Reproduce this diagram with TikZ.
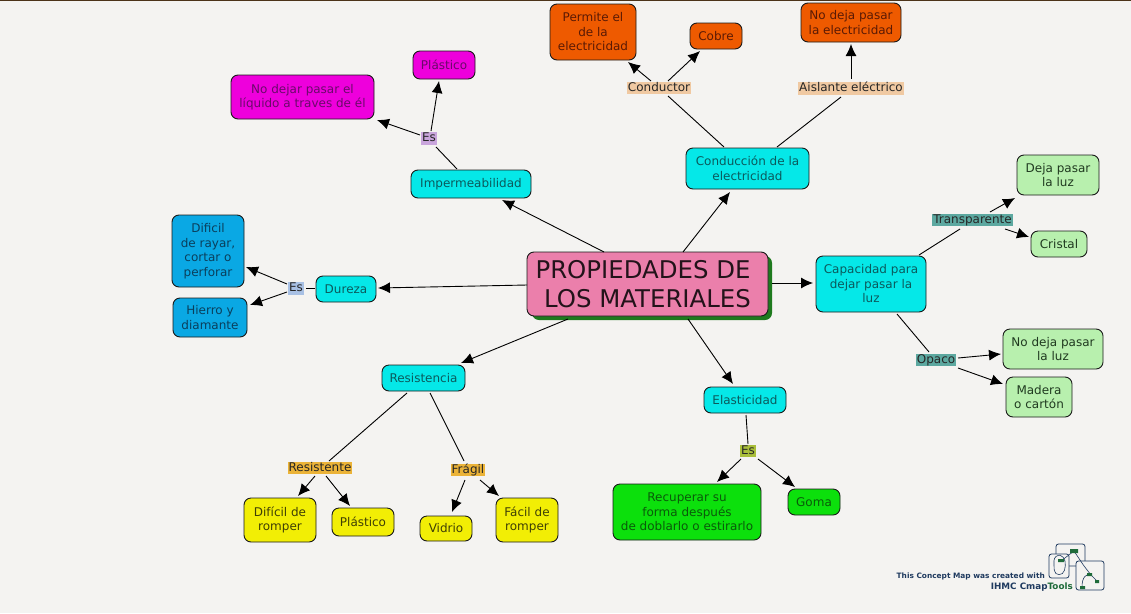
\documentclass[tikz,border=0pt]{standalone}
\usepackage{fontspec}
\setmainfont{DejaVu Sans}
\usetikzlibrary{arrows.meta}
\definecolor{paper}{HTML}{F4F3F1}
\definecolor{rootpink}{HTML}{EB7FAB}\definecolor{shadowgreen}{HTML}{1E7A1E}
\definecolor{aquafill}{HTML}{05E8E8}\definecolor{aquatext}{HTML}{0B5A5C}
\definecolor{magfill}{HTML}{EE00DC}\definecolor{magtext}{HTML}{6A0A6A}
\definecolor{orfill}{HTML}{EE5A00}\definecolor{ortext}{HTML}{5A1A05}
\definecolor{skyfill}{HTML}{0AA8E4}\definecolor{skytext}{HTML}{0A3F5C}
\definecolor{mintfill}{HTML}{B8F0AE}\definecolor{minttext}{HTML}{203A20}
\definecolor{yelfill}{HTML}{F2EE05}\definecolor{yeltext}{HTML}{3F3F05}
\definecolor{grnfill}{HTML}{0CE00C}\definecolor{grntext}{HTML}{0A5A0A}
\definecolor{logoblue}{HTML}{1F3A5F}\definecolor{logogreen}{HTML}{1F6B3A}
\definecolor{esviolet}{HTML}{C9A5DC}\definecolor{estan}{HTML}{F0C9A2}
\definecolor{esteal}{HTML}{5CA8A0}\definecolor{esblue}{HTML}{A8C0E4}
\definecolor{esgold}{HTML}{EBB338}\definecolor{esolive}{HTML}{A9BE3A}
\tikzset{
  concept/.style={draw=black!90,line width=.9pt,rounded corners=7pt,align=center,inner sep=0pt,font=\fontsize{12}{14.5}\selectfont},
  root/.style={concept,fill=rootpink,text=black!85!rootpink,font=\fontsize{24.4}{29.5}\selectfont},
  aqua/.style={concept,fill=aquafill,text=aquatext},
  magbox/.style={concept,fill=magfill,text=magtext},
  orbox/.style={concept,fill=orfill,text=ortext},
  skybox/.style={concept,fill=skyfill,text=skytext},
  mintbox/.style={concept,fill=mintfill,text=minttext},
  yelbox/.style={concept,fill=yelfill,text=yeltext},
  grnbox/.style={concept,fill=grnfill,text=grntext},
  phrase/.style={inner xsep=1pt,inner ysep=.5pt,text height=9pt,text depth=2.5pt,font=\fontsize{12}{14}\selectfont,text=black!85},
  link/.style={draw=black,line width=.9pt},
  arrow/.style={link,-{Latex[length=12pt,width=11pt]}},
  logo/.style={draw=logoblue,line width=.8pt,rounded corners=2.5pt}
}
\begin{document}
\begin{tikzpicture}[x=1pt,y=-1pt]
  \fill[paper] (0,0) rectangle (1131,613);
  \fill[black!60!brown] (0,0) rectangle (1131,1.2);
  % main concept with its shadow
  \fill[shadowgreen,rounded corners=7pt] (532,256) rectangle (772,320);
  \node[root,minimum width=241pt,minimum height=64pt] (main) at (647.5,284) {PROPIEDADES DE\kern9pt\\LOS MATERIALES};
  % branches
  \node[aqua,minimum width=120pt,minimum height=28pt] (imper) at (471,184) {Impermeabilidad};
  \node[aqua,minimum width=123pt,minimum height=41pt] (cond) at (747.5,168.5) {Conducción de la\\electricidad};
  \node[aqua,minimum width=110pt,minimum height=56pt] (capac) at (871,284) {Capacidad para\\dejar pasar la\\luz};
  \node[aqua,minimum width=60pt,minimum height=26pt] (dureza) at (346,289) {Dureza};
  \node[aqua,minimum width=83pt,minimum height=26pt] (resist) at (423.5,378) {Resistencia};
  \node[aqua,minimum width=82pt,minimum height=26pt] (elast) at (745,400) {Elasticidad};
  % leaves
  \node[magbox,minimum width=62pt,minimum height=28pt] (plast) at (444,65) {Plástico};
  \node[magbox,minimum width=143pt,minimum height=44pt] (nodejar) at (302.5,97) {No dejar pasar el\\líquido a traves de él};
  \node[orbox,minimum width=86pt,minimum height=56pt] (permite) at (593,32) {Permite el\\de la\\electricidad};
  \node[orbox,minimum width=52pt,minimum height=26pt] (cobre) at (716,36) {Cobre};
  \node[orbox,minimum width=100pt,minimum height=39pt] (nodeja) at (851,22.5) {No deja pasar\\la electricidad};
  \node[skybox,minimum width=72pt,minimum height=72pt] (dificil) at (208,251) {Dificil\\de rayar,\\cortar o\\perforar};
  \node[skybox,minimum width=74pt,minimum height=39pt] (hierro) at (210,317.5) {Hierro y\\diamante};
  \node[mintbox,minimum width=82pt,minimum height=40pt] (dejaluz) at (1058,175) {Deja pasar\\la luz};
  \node[mintbox,minimum width=56pt,minimum height=26pt] (cristal) at (1059,244) {Cristal};
  \node[mintbox,minimum width=100pt,minimum height=40pt] (nodejaluz) at (1053,349) {No deja pasar\\la luz};
  \node[mintbox,minimum width=66pt,minimum height=40pt] (madera) at (1039,397) {Madera\\o cartón};
  \node[yelbox,minimum width=72pt,minimum height=44pt] (dromper) at (280,520) {Difícil de\\romper};
  \node[yelbox,minimum width=62pt,minimum height=28pt] (plast2) at (363,522) {Plástico};
  \node[yelbox,minimum width=52pt,minimum height=25pt] (vidrio) at (446,528.5) {Vidrio};
  \node[yelbox,minimum width=62pt,minimum height=44pt] (facil) at (527,520) {Fácil de\\romper};
  \node[grnbox,minimum width=148pt,minimum height=56pt] (recup) at (687,512) {Recuperar su\\forma después\\de doblarlo o estirarlo};
  \node[grnbox,minimum width=52pt,minimum height=26pt] (goma) at (814,502) {Goma};
  % linking phrases
  \node[phrase,fill=esviolet] (es1) at (429,138.5) {Es};
  \node[phrase,fill=estan] (conduc) at (659,88) {Conductor};
  \node[phrase,fill=estan] (aisla) at (851,88.5) {Aislante eléctrico};
  \node[phrase,fill=esteal] (transp) at (972.5,220) {Transparente};
  \node[phrase,fill=esteal] (opaco) at (936,360) {Opaco};
  \node[phrase,fill=esblue] (es2) at (296,288.5) {Es};
  \node[phrase,fill=esgold] (resis) at (320,468) {Resistente};
  \node[phrase,fill=esgold] (fragil) at (468,470) {Frágil};
  \node[phrase,fill=esolive] (es3) at (748,451) {Es};
  % connectors
  \draw[arrow] ([shift={(-43.5,-32)}]main.center) -- ([shift={(31,16)}]imper.center);
  \draw[arrow] ([shift={(35.5,-32)}]main.center) -- ([shift={(-17.5,23.5)}]cond.center);
  \draw[arrow] ([shift={(124.5,-1)}]main.center) -- ([shift={(-58,-1)}]capac.center);
  \draw[arrow] ([shift={(-120.5,1)}]main.center) -- ([shift={(32,-1)}]dureza.center);
  \draw[arrow] ([shift={(-79.5,35)}]main.center) -- ([shift={(37.5,-15)}]resist.center);
  \draw[arrow] ([shift={(40.5,35)}]main.center) -- ([shift={(-12,-16)}]elast.center);
  \draw[link] ([shift={(-14,-15)}]imper.center) -- ([shift={(7,8.5)}]es1.center);
  \draw[arrow] ([shift={(2,-7.5)}]es1.center) -- ([shift={(-5,16)}]plast.center);
  \draw[arrow] ([shift={(-9,-3.5)}]es1.center) -- ([shift={(74.5,23)}]nodejar.center);
  \draw[link] ([shift={(-23.5,-21.5)}]cond.center) -- ([shift={(9,8)}]conduc.center);
  \draw[arrow] ([shift={(-8,-7)}]conduc.center) -- ([shift={(35,30)}]permite.center);
  \draw[arrow] ([shift={(9,-7)}]conduc.center) -- ([shift={(-16,15)}]cobre.center);
  \draw[link] ([shift={(29.5,-21.5)}]cond.center) -- ([shift={(-10,8.5)}]aisla.center);
  \draw[arrow] ([shift={(0,-9.5)}]aisla.center) -- ([shift={(0,21.5)}]nodeja.center);
  \draw[link] ([shift={(48,-29)}]capac.center) -- ([shift={(-12.5,9)}]transp.center);
  \draw[arrow] ([shift={(17.5,-8)}]transp.center) -- ([shift={(-43,23)}]dejaluz.center);
  \draw[arrow] ([shift={(32.5,9)}]transp.center) -- ([shift={(-30,-7)}]cristal.center);
  \draw[link] ([shift={(26,30)}]capac.center) -- ([shift={(-7,-8)}]opaco.center);
  \draw[arrow] ([shift={(22,-2)}]opaco.center) -- ([shift={(-52,5)}]nodejaluz.center);
  \draw[arrow] ([shift={(22,8)}]opaco.center) -- ([shift={(-36,-13)}]madera.center);
  \draw[link] ([shift={(-31,-1)}]dureza.center) -- ([shift={(10,-.5)}]es2.center);
  \draw[arrow] ([shift={(-9,-4.5)}]es2.center) -- ([shift={(38,16)}]dificil.center);
  \draw[arrow] ([shift={(-9,3.5)}]es2.center) -- ([shift={(40,-12.5)}]hierro.center);
  \draw[link] ([shift={(-16.5,15)}]resist.center) -- ([shift={(9,-7)}]resis.center);
  \draw[link] ([shift={(6.5,15)}]resist.center) -- ([shift={(-4,-9)}]fragil.center);
  \draw[arrow] ([shift={(-5,8)}]resis.center) -- ([shift={(18,-24)}]dromper.center);
  \draw[arrow] ([shift={(6,8)}]resis.center) -- ([shift={(-13,-16)}]plast2.center);
  \draw[arrow] ([shift={(-3,10)}]fragil.center) -- ([shift={(6,-16.5)}]vidrio.center);
  \draw[arrow] ([shift={(12,10)}]fragil.center) -- ([shift={(-28,-24)}]facil.center);
  \draw[link] ([shift={(1,15)}]elast.center) -- ([shift={(0,-7)}]es3.center);
  \draw[arrow] ([shift={(-7,8)}]es3.center) -- ([shift={(30,-30)}]recup.center);
  \draw[arrow] ([shift={(10,8)}]es3.center) -- ([shift={(-19,-15)}]goma.center);
  % tool credit
  \node[font=\bfseries\fontsize{7.4}{9}\selectfont,text=logoblue,anchor=east,inner sep=0pt] (credit) at (1045,576) {This Concept Map was created with};
  \node[font=\bfseries\fontsize{8.8}{10}\selectfont,text=logoblue,anchor=east,inner sep=0pt] (ihmc) at (1073,587) {IHMC Cmap\textcolor{logogreen}{Tools}};
  \draw[logo] (1056,544) rectangle (1085,566);
  \draw[logo,fill=paper] (1049,554) rectangle (1069,578);
  \draw[logo,fill=paper] (1076,561) rectangle (1104,590);
  \draw[logo,line width=.6pt] (1054,558) .. controls (1062,552) and (1066,560) .. (1065,568) .. controls (1063,576) and (1055,576) .. (1054,568) -- cycle;
  \draw[logo,line width=.6pt] (1061,561) -- (1074,551) -- (1084,566) -- (1091,575) -- (1097,581);
  \draw[logo,line width=.6pt] (1082,587) .. controls (1082,577) and (1086,574) .. (1091,574);
  \fill[logogreen] (1070,549) rectangle (1078,553) (1058,559) rectangle (1064,562) (1087,573) rectangle (1092,576) (1095,580) rectangle (1099,583) (1080,586) rectangle (1085,589);
\end{tikzpicture}
\end{document}
